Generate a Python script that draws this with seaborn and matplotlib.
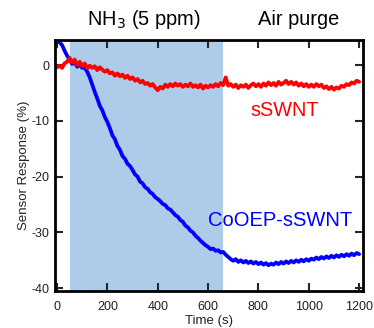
import numpy as np
import pandas as pd
import matplotlib
matplotlib.use("Agg")
import matplotlib.pyplot as plt
import matplotlib.transforms as mtransforms
import seaborn as sns

# ----------------------------------
# Data (10 s steps)
# ----------------------------------
time_s = np.arange(0, 1201, 10)

sswnt = [
    -0.4, -0.1, -0.5, 0.3, 0.6, 1.3, 0.4, 1.0, 0.0, 0.6,
    -0.2, 0.3, -0.6, -0.1, -0.5, -0.2, -0.9, -0.4, -0.8, -1.2,
    -0.9, -1.5, -1.3, -1.9, -1.5, -2.0, -1.7, -2.3, -1.9, -2.5,
    -2.2, -2.8, -2.5, -3.1, -2.8, -3.4, -3.2, -3.7, -3.4, -4.0,
    -4.5, -3.9, -4.2, -3.5, -3.9, -3.4, -3.8, -3.3, -3.7, -3.4,
    -3.9, -3.5, -3.8, -3.3, -3.9, -3.6, -4.0, -3.5, -4.2, -3.7,
    -4.0, -3.6, -3.9, -3.4, -3.8, -3.2, -3.6, -2.2, -3.7, -3.4,
    -3.9, -3.5, -4.1, -3.6, -3.9, -3.5, -4.1, -3.6, -3.3, -3.8,
    -3.4, -3.9, -3.3, -3.7, -3.1, -3.6, -3.2, -3.7, -3.0, -3.5,
    -3.2, -2.8, -3.4, -3.0, -3.5, -3.1, -3.7, -3.3, -3.8, -3.4,
    -3.9, -3.5, -3.9, -3.4, -3.8, -3.5, -4.1, -3.8, -4.3, -3.9,
    -4.4, -4.0, -4.2, -3.7, -3.9, -3.4, -3.6, -3.1, -3.3, -2.8,
    -3.0,
]

cooep_sswnt = [
    4.3, 4.1, 3.6, 2.6, 1.7, 1.0, 0.2, 0.6, -0.3, 0.1,
    -0.5, -0.4, -1.2, -2.2, -3.5, -4.8, -6.0, -7.3, -8.1, -9.3,
    -10.2, -11.3, -12.6, -13.3, -14.5, -15.2, -16.3, -16.8, -17.7, -18.1,
    -18.8, -19.6, -20.0, -20.9, -21.2, -21.9, -22.2, -22.8, -23.1, -23.7,
    -24.0, -24.4, -24.9, -25.1, -25.7, -25.9, -26.4, -26.9, -27.2, -27.8,
    -28.1, -28.8, -29.1, -29.7, -30.0, -30.6, -31.0, -31.5, -31.9, -32.3,
    -32.6, -33.0, -32.9, -33.3, -33.2, -33.6, -33.5, -34.0, -34.4, -34.8,
    -35.1, -34.8, -35.3, -35.0, -35.4, -35.1, -35.5, -35.2, -35.6, -35.3,
    -35.7, -35.4, -35.8, -35.5, -35.9, -35.6, -35.8, -35.4, -35.7, -35.3,
    -35.6, -35.2, -35.5, -35.1, -35.4, -35.0, -35.3, -34.9, -35.2, -34.8,
    -35.1, -34.7, -34.9, -34.5, -34.8, -34.4, -34.7, -34.3, -34.6, -34.2,
    -34.5, -34.1, -34.4, -34.0, -34.3, -33.9, -34.2, -33.8, -34.1, -33.7,
    -33.9,
]

exposure_window = (50, 660)   # NH3 on
phase_labels = ["NH$_3$ (5 ppm)", "Air purge"]
phase_label_x = [346, 958]
x_ticks = [0, 200, 400, 600, 800, 1000, 1200]
y_ticks = [0, -10, -20, -30, -40]

df = pd.DataFrame({
    "time": np.concatenate([time_s, time_s]),
    "response": sswnt + cooep_sswnt,
    "sample": ["sSWNT"] * len(time_s) + ["CoOEP-sSWNT"] * len(time_s),
})

# ----------------------------------
# Style
# ----------------------------------
sns.set_theme(style="ticks")
plt.rcParams["font.family"] = ["Liberation Sans", "DejaVu Sans"]
plt.rcParams["axes.unicode_minus"] = False

fig = plt.figure(figsize=(3.74, 3.28), dpi=100)
ax = fig.add_axes([0.147, 0.113, 0.824, 0.765])

ax.axvspan(*exposure_window, color="#aecbe9", lw=0, zorder=0)

sns.lineplot(data=df, x="time", y="response", hue="sample",
             hue_order=["CoOEP-sSWNT", "sSWNT"],
             palette={"sSWNT": "#ff0000", "CoOEP-sSWNT": "#0000ff"},
             linewidth=2.7, legend=False, ax=ax, zorder=2)

ax.set_xlim(-8, 1216)
ax.set_ylim(-40.5, 4.5)
ax.set_xticks(x_ticks)
ax.set_yticks(y_ticks)

ax.tick_params(direction="in", length=6, width=1.5, labelsize=9,
               labelcolor="#222222", top=True, right=True)
ax.tick_params(axis="x", pad=7)
ax.tick_params(axis="y", pad=4)
for s in ax.spines.values():
    s.set_linewidth(2)
    s.set_color("black")

ax.set_xlabel("Time (s)", fontsize=9.5, color="#222222", labelpad=2)
ax.set_ylabel("Sensor Response (%)", fontsize=9.5, color="#222222", labelpad=1)

# in-plot labels
ax.text(906, -8.1, "sSWNT", color="#ff0000", fontsize=14.3, ha="center", va="center")
ax.text(886, -27.8, "CoOEP-sSWNT", color="#0000ff", fontsize=14.5, ha="center", va="center")

# phase labels above the plot
trans = mtransforms.blended_transform_factory(ax.transData, ax.transAxes)
for lbl, xpos in zip(phase_labels, phase_label_x):
    ax.text(xpos, 1.08, lbl, transform=trans, fontsize=14.4, ha="center",
            va="center", color="black")

fig.savefig("out.png", dpi=100)
